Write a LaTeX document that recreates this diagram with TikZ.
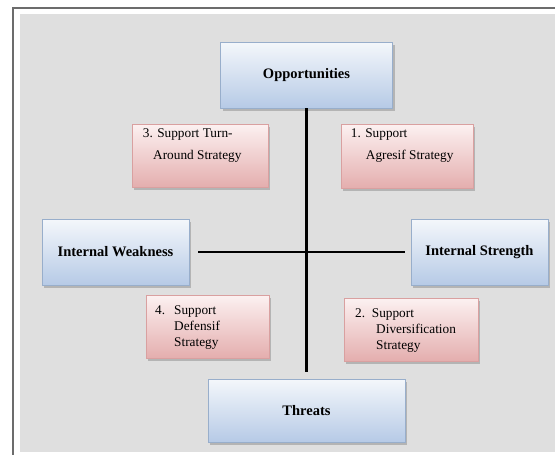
\documentclass[tikz,border=0pt]{standalone}
\usepackage{fontspec}
\setmainfont{Liberation Serif}
\usetikzlibrary{shadows}

\definecolor{panel}{HTML}{DFDFDF}
\definecolor{frameline}{HTML}{6C6C6C}
\definecolor{bluetop}{HTML}{F4F7FB}
\definecolor{bluebot}{HTML}{B6CAE6}
\definecolor{blueedge}{HTML}{98AECB}
\definecolor{pinktop}{HTML}{FCF1F1}
\definecolor{pinkbot}{HTML}{E4AEAE}
\definecolor{pinkedge}{HTML}{D9A0A0}

\tikzset{
  boxshadow/.style={drop shadow={shadow xshift=2pt, shadow yshift=-2.5pt, fill=black!50, opacity=0.45}},
  axisbox/.style={rectangle, draw=blueedge, line width=0.8pt,
    top color=bluetop, bottom color=bluebot, boxshadow,
    inner sep=0pt, font=\fontsize{14.5}{17}\selectfont\bfseries},
  stratbox/.style={rectangle, draw=pinkedge, line width=0.8pt,
    top color=pinktop, bottom color=pinkbot, boxshadow, inner sep=0pt},
  strattext/.style={anchor=base west, inner sep=0pt, font=\fontsize{13.3}{16}\selectfont},
  axisline/.style={line width=2.2pt, black}
}

\begin{document}
\begin{tikzpicture}[x=1pt,y=-1pt]
\useasboundingbox (0,0) rectangle (555,455);
\fill[white] (0,0) rectangle (555,455);
% grey panel and its frame
\fill[panel] (20,14) rectangle (555,452);
\draw[frameline, line width=2pt] (12.5,455) -- (12.5,7.5) -- (555,7.5);

% the four axis boxes
\node[axisbox, minimum width=172pt, minimum height=66pt] (opp) at (306.5,75) {Opportunities};
\node[axisbox, minimum width=147pt, minimum height=66pt] (iw) at (115.5,252) {Internal Weakness};
\node[axisbox, minimum width=137pt, minimum height=66pt] (is) at (479.5,252) {Internal Strength};
\node[axisbox, minimum width=197pt, minimum height=63pt] (thr) at (306.5,410.5) {Threats};

% the four strategy boxes
\node[stratbox, minimum width=136pt, minimum height=63pt] (s3) at (200,155.5) {};
\node[stratbox, minimum width=132pt, minimum height=64pt] (s1) at (407,156) {};
\node[stratbox, minimum width=123pt, minimum height=63pt] (s4) at (207.5,326.5) {};
\node[stratbox, minimum width=134pt, minimum height=63pt] (s2) at (411,329.5) {};

% strategy texts
\node[strattext] (s3a) at (142.7,137.5) {3. Support Turn-};
\node[strattext] (s3b) at (153,159) {Around Strategy};
\node[strattext] (s1a) at (350.7,137.5) {1. Support};
\node[strattext] (s1b) at (365.7,159) {Agresif Strategy};
\node[strattext] (s4n) at (155,314.3) {4.};
\node[strattext] (s4a) at (174,314.3) {Support};
\node[strattext] (s4b) at (174,330) {Defensif};
\node[strattext] (s4c) at (174,346) {Strategy};
\node[strattext] (s2n) at (355,317.7) {2.};
\node[strattext] (s2a) at (371.7,317.7) {Support};
\node[strattext] (s2b) at (376,333.3) {Diversification};
\node[strattext] (s2c) at (376,349) {Strategy};

% the two axes
\draw[axisline, shorten >=7pt] (opp) -- (thr);
\draw[axisline, shorten <=9pt, shorten >=6pt] (iw) -- (is);
\end{tikzpicture}
\end{document}
